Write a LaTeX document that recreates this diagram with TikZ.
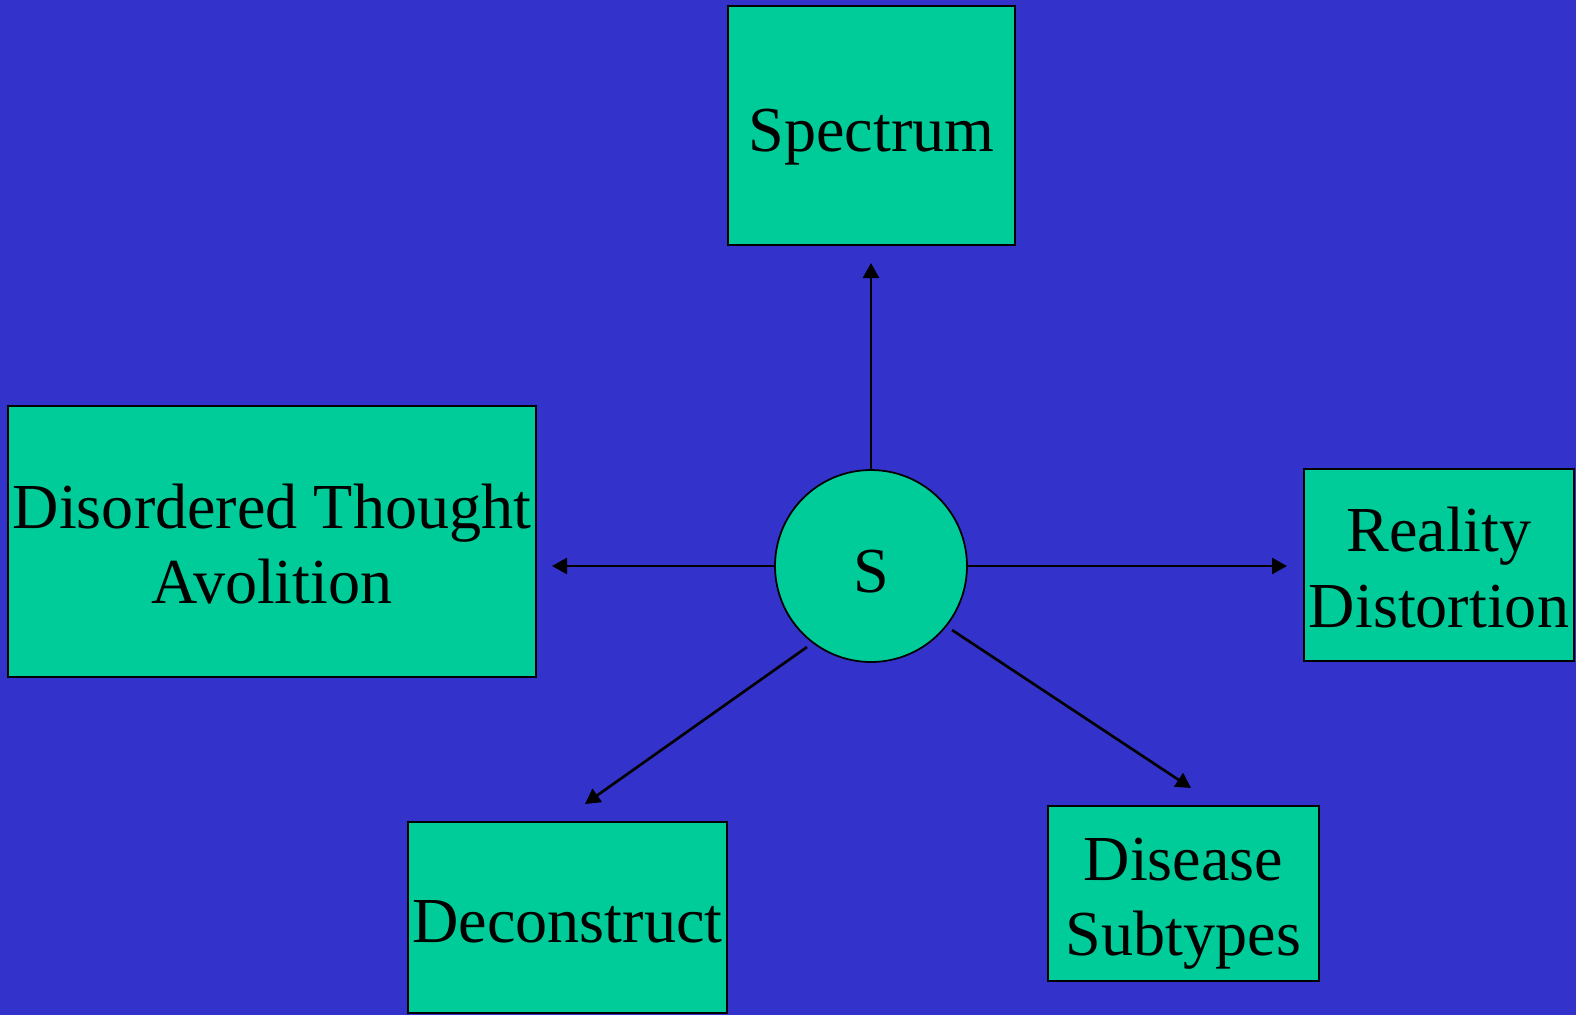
\documentclass[tikz,border=0pt]{standalone}
\usepackage{fontspec}
\setmainfont{Liberation Serif}
\usetikzlibrary{arrows.meta}

\definecolor{bgblue}{HTML}{3333CC}
\definecolor{boxgreen}{HTML}{00CC99}

% strut on the first line, pushes the text down by #1
\newcommand{\drop}[1]{\rule{0pt}{\dimexpr24.6pt+#1*2\relax}}

\tikzset{
	topic/.style={draw=black, line width=1pt, fill=boxgreen, align=center, inner sep=0pt,
		font=\fontsize{36.5}{43}\selectfont},
	hub/.style={topic, circle, minimum size=3.84cm},
	link/.style={line width=1.5pt, -{Triangle[length=3mm,width=3.2mm]}}
}

\begin{document}
\begin{tikzpicture}[x=0.02cm,y=-0.02cm]
	\fill[bgblue] (0,0) rectangle (1576,1015);
	\useasboundingbox (0,0) rectangle (1576,1015);

	\node[topic, minimum width=5.74cm, minimum height=4.78cm] (spec) at (871.5,125.5) {\drop{6.3pt}Spectrum};
	\node[topic, minimum width=10.56cm, minimum height=5.42cm] (dis) at (272,541.5) {\drop{1.7pt}Disordered Thought\\Avolition};
	\node[topic, minimum width=5.4cm, minimum height=3.84cm] (real) at (1439,565) {\drop{1.7pt}Reality\\Distortion};
	\node[topic, minimum width=6.38cm, minimum height=3.82cm] (dec) at (567.5,917.5) {\drop{2.3pt}Deconstruct};
	\node[topic, minimum width=5.42cm, minimum height=3.5cm] (sub) at (1183.5,893.5) {\drop{5.7pt}Disease\\Subtypes};

	\node[hub] (s) at (871,566) {\drop{2.8pt}S};

	\coordinate (spec-in) at (871,263);
	\coordinate (dis-in) at (552,566);
	\coordinate (real-in) at (1287,566);
	\coordinate (dec-out) at (807,647);
	\coordinate (dec-in) at (585,804);
	\coordinate (sub-out) at (952,630);
	\coordinate (sub-in) at (1191,788);

	\draw[link] (s.north) -- (spec-in);
	\draw[link] (s.west) -- (dis-in);
	\draw[link] (s.east) -- (real-in);
	\draw[link] (dec-out) -- (dec-in);
	\draw[link] (sub-out) -- (sub-in);
\end{tikzpicture}
\end{document}
